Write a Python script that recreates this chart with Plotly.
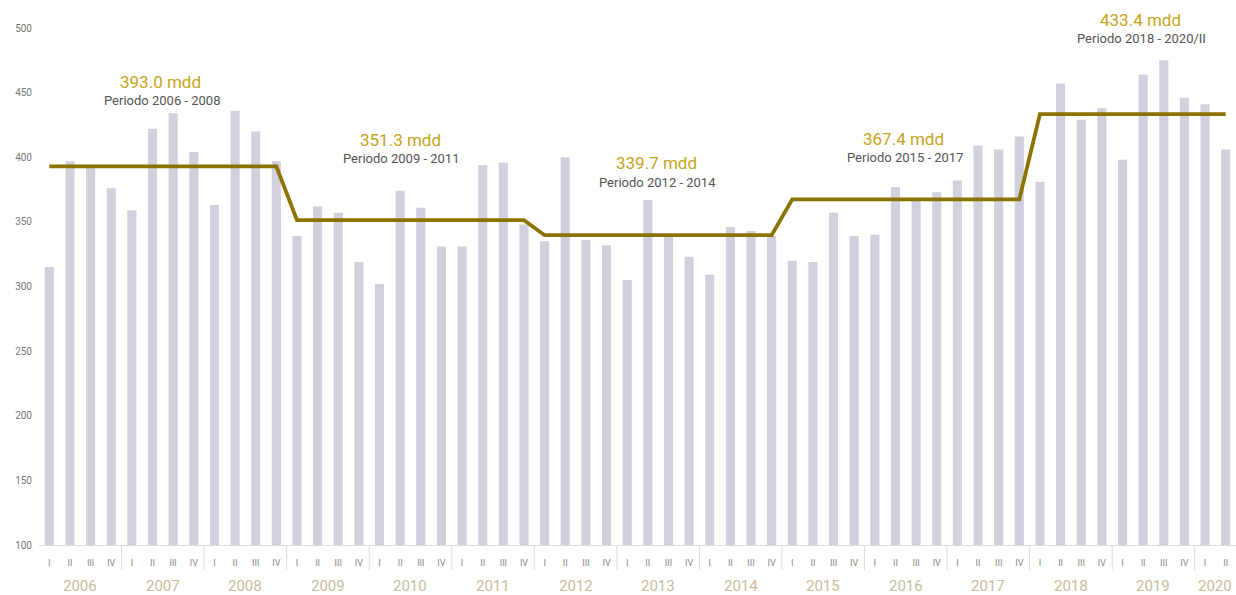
import plotly.graph_objects as go

years = ["2006", "2007", "2008", "2009", "2010", "2011", "2012", "2013",
         "2014", "2015", "2016", "2017", "2018", "2019", "2020"]
quarter_names = ["I", "II", "III", "IV"]

values = [
    315, 397, 393, 376,   # 2006
    359, 422, 434, 404,   # 2007
    363, 436, 420, 397,   # 2008
    339, 362, 357, 319,   # 2009
    302, 374, 361, 331,   # 2010
    331, 394, 396, 348,   # 2011
    335, 400, 336, 332,   # 2012
    305, 367, 340, 323,   # 2013
    309, 346, 343, 339,   # 2014
    320, 319, 357, 339,   # 2015
    340, 377, 367, 373,   # 2016
    382, 409, 406, 416,   # 2017
    381, 457, 429, 438,   # 2018
    398, 464, 475, 446,   # 2019
    441, 406,             # 2020
]

period_avgs = [393.0, 351.3, 339.7, 367.4, 433.4]
period_labels = ["Periodo 2006 - 2008", "Periodo 2009 - 2011", "Periodo 2012 - 2014",
                 "Periodo 2015 - 2017", "Periodo 2018 - 2020/II"]
period_lengths = [12, 12, 12, 12, 10]

Y_MIN, Y_MAX = 100, 500

# build categories
quarters = []
year_of = []
for y in years:
    n = 2 if y == "2020" else 4
    for q in quarter_names[:n]:
        quarters.append(q)
        year_of.append(y)
idx = list(range(len(values)))

line_y = []
for avg, n in zip(period_avgs, period_lengths):
    line_y += [avg] * n

fig = go.Figure()
fig.add_trace(go.Bar(x=idx, y=values, marker=dict(color="#d1d0dd", line=dict(width=0)),
                     width=0.44, hoverinfo="y"))
fig.add_trace(go.Scatter(x=idx, y=line_y, mode="lines",
                         line=dict(color="#8c7300", width=3.8)))

def to_paper(v):
    return (v - Y_MIN) / (Y_MAX - Y_MIN)

# period annotations (label positions in value units)
ann_x = [5.4, 17.0, 29.4, 41.4, 52.85]
ann_y_val = [458.5, 413.5, 395.5, 414.5, 506.5]
annotations = []
for ax_, ay, avg, lab in zip(ann_x, ann_y_val, period_avgs, period_labels):
    annotations.append(dict(x=ax_, y=to_paper(ay), xref="x", yref="paper", showarrow=False,
                            text=f"{avg:.1f} mdd", yanchor="middle",
                            font=dict(family="Roboto", size=17, color="#c6a520")))
    annotations.append(dict(x=ax_ + 0.05, y=to_paper(ay - 14.8), xref="x", yref="paper", showarrow=False,
                            text=lab, yanchor="middle",
                            font=dict(family="Roboto", size=13, color="#555555")))

# year labels and dividers
shapes = []
start = 0
for y in years:
    n = year_of.count(y)
    center = start + (n - 1) / 2
    annotations.append(dict(x=center, y=-0.079, xref="x", yref="paper", showarrow=False,
                            text=y, yanchor="middle",
                            font=dict(family="Roboto", size=15, color="#c9bd9c")))
    if start > 0:
        shapes.append(dict(type="line", xref="x", yref="paper", x0=start - 0.5, x1=start - 0.5,
                           y0=0, y1=-0.048, line=dict(color="#dddddd", width=1)))
    start += n

fig.update_layout(
    width=1236, height=595,
    margin=dict(l=39, r=0, t=28, b=50),
    plot_bgcolor="white", paper_bgcolor="white",
    showlegend=False,
    annotations=annotations,
    shapes=shapes,
    xaxis=dict(range=[-0.5, 57.5], tickmode="array", tickvals=idx, ticktext=quarters,
               tickfont=dict(family="Roboto", size=9, color="#888888"),
               ticks="outside", ticklen=9, tickcolor="rgba(0,0,0,0)",
               showgrid=False, zeroline=False, showline=True, linecolor="#dddddd", linewidth=1),
    yaxis=dict(range=[Y_MIN, Y_MAX], tickmode="array",
               tickvals=[100, 150, 200, 250, 300, 350, 400, 450, 500],
               tickfont=dict(family="Roboto", size=10, color="#777777"),
               ticks="outside", ticklen=4, tickcolor="rgba(0,0,0,0)",
               showgrid=False, zeroline=False, showline=False),
)

fig.write_html("out.html", config={"displayModeBar": False},
               post_script="document.body.style.margin='0';document.body.style.overflow='hidden';")
